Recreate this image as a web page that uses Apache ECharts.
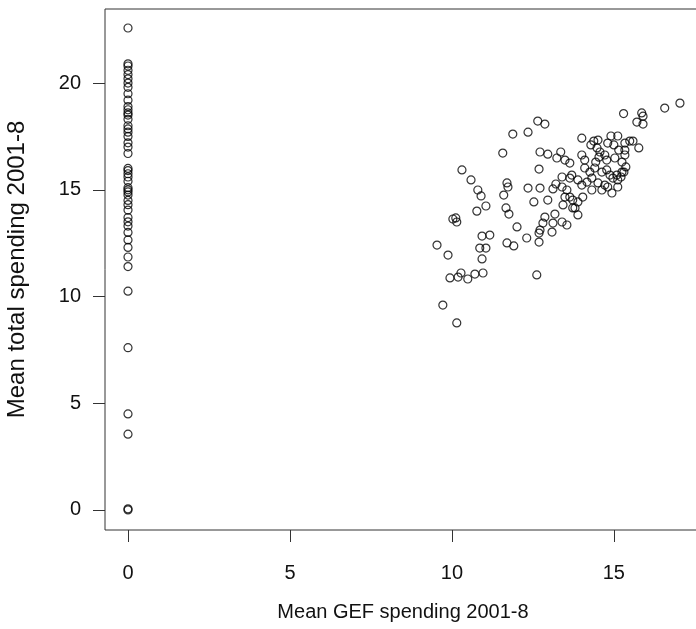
<!DOCTYPE html>
<html>
<head>
<meta charset="utf-8">
<title>Mean total vs GEF spending</title>
<script src="https://cdn.jsdelivr.net/npm/echarts@6/dist/echarts.min.js"></script>
<style>
  html, body { margin: 0; padding: 0; background: #fff; overflow: hidden; }
  /* a little wider than the window: the plot box runs off the right edge like the original */
  #chart { width: 720px; height: 629px; }
</style>
</head>
<body>
<div id="chart"></div>
<script>
// countries with no GEF spending (x = 0)
const zeroGefTotal = [
  22.58, 20.9, 20.8, 20.6, 20.4, 20.2, 20.0, 19.8, 19.5, 19.2, 18.9, 18.75,
  18.6, 18.5, 18.3, 18.0, 17.85, 17.7, 17.5, 17.2, 17.0, 16.7, 16.0, 15.9,
  15.75, 15.6, 15.4, 15.1, 15.0, 14.9, 14.75, 14.5, 14.3, 14.05, 13.7, 13.5,
  13.3, 13.0, 12.65, 12.3, 11.85, 11.4, 10.25, 7.6, 4.5, 3.55, 0.05, 0.0
]

// countries with GEF spending: x and y in the same order
const gefSpending = [
  9.54, 9.72, 10.15, 9.88, 10.03, 10.12, 10.15, 9.94, 10.19, 10.28,
  10.49, 10.71, 10.96, 10.93, 10.86, 11.05, 10.93, 11.17, 10.77, 11.05,
  11.67, 11.76, 11.70, 11.91, 12.01, 12.31, 12.62, 12.53, 12.69, 12.69,
  12.72, 12.81, 12.87, 13.09, 13.12, 13.18, 12.96, 10.31, 10.59, 10.80,
  10.90, 11.57, 11.88, 12.35, 11.70, 11.73, 11.60, 12.35, 12.65, 12.87,
  12.72, 12.96, 13.24, 13.36, 12.69, 12.72, 13.12, 13.21, 13.40, 13.64,
  13.70, 13.49, 13.64, 14.01, 14.01, 14.10, 14.29, 14.38, 14.51, 14.48,
  14.57, 14.54, 14.44, 14.41, 14.63, 14.91, 15.12, 14.81, 15.00, 15.15,
  15.34, 14.72, 14.78, 15.03, 15.25, 15.34, 15.37, 15.25, 14.78, 14.88,
  14.97, 15.09, 15.12, 13.89, 14.01, 14.17, 14.32, 14.51, 14.63, 14.81,
  14.94, 13.40, 13.55, 13.64, 13.49, 13.43, 13.73, 13.89, 13.73, 14.04,
  15.30, 15.86, 15.90, 15.71, 15.90, 16.57, 17.04, 15.34, 15.49, 15.59,
  15.77, 15.31, 15.22, 14.72, 15.12, 14.10, 14.26, 14.32, 13.40, 13.55,
  13.89, 13.80
]
const totalSpending = [
  12.41, 9.60, 8.76, 11.94, 13.63, 13.68, 13.49, 10.87, 10.91, 11.10,
  10.82, 11.05, 11.10, 11.76, 12.27, 12.27, 12.83, 12.88, 14.00, 14.24,
  14.15, 13.86, 12.51, 12.37, 13.26, 12.74, 11.01, 14.43, 12.97, 12.55,
  13.11, 13.44, 13.72, 13.02, 13.44, 13.86, 14.52, 15.93, 15.46, 14.99,
  14.71, 16.72, 17.61, 17.70, 15.32, 15.13, 14.75, 15.08, 18.22, 18.08,
  16.77, 16.67, 16.49, 16.77, 15.97, 15.08, 15.04, 15.27, 15.60, 15.55,
  15.69, 16.39, 16.25, 17.42, 16.63, 16.39, 17.10, 17.28, 17.33, 16.96,
  16.77, 16.53, 16.30, 16.02, 15.83, 17.52, 17.52, 17.19, 17.10, 16.86,
  16.86, 16.63, 16.39, 16.49, 16.30, 16.63, 16.07, 15.83, 15.93, 15.69,
  15.55, 15.69, 15.46, 15.46, 15.22, 15.36, 14.99, 15.32, 14.99, 15.13,
  14.85, 15.13, 14.99, 14.66, 14.66, 14.29, 14.52, 14.43, 14.15, 14.66,
  18.57, 18.60, 18.45, 18.17, 18.08, 18.83, 19.06, 17.19, 17.28, 17.28,
  16.96, 15.83, 15.60, 15.22, 15.13, 16.02, 15.83, 15.55, 13.49, 13.35,
  13.82, 14.15
]

const xTicks = [0, 5, 10, 15]
const yTicks = [0, 5, 10, 15, 20]

const font = 'Liberation Sans, Arial, sans-serif'

const points = zeroGefTotal.map(v => [0, v])
  .concat(gefSpending.map((v, i) => [v, totalSpending[i]]))

const chart = echarts.init(document.getElementById('chart'), null, { renderer: 'canvas' })

chart.setOption({
  animation: false,
  backgroundColor: '#fff',
  grid: {
    left: 105,
    top: 9,
    width: 596,
    height: 521,
    // keep the box exactly where it is set, labels may sit outside
    outerBoundsMode: 'none',
    show: true,
    borderColor: '#333',
    borderWidth: 1
  },
  xAxis: {
    type: 'value',
    min: -0.71,
    max: 17.69,
    name: 'Mean GEF spending 2001-8',
    nameLocation: 'middle',
    nameGap: 72,
    nameTextStyle: { color: '#111', fontFamily: font, fontSize: 20 },
    axisLine: { show: false, onZero: false },
    splitLine: { show: false },
    axisTick: {
      show: true,
      length: 12,
      customValues: xTicks,
      lineStyle: { color: '#333' }
    },
    axisLabel: {
      customValues: xTicks,
      margin: 33,
      color: '#111',
      fontFamily: font,
      fontSize: 20
    }
  },
  yAxis: {
    type: 'value',
    min: -0.94,
    max: 23.47,
    name: 'Mean total spending 2001-8',
    nameLocation: 'middle',
    nameGap: 76,
    nameTextStyle: { color: '#111', fontFamily: font, fontSize: 24 },
    axisLine: { show: false, onZero: false },
    splitLine: { show: false },
    axisTick: {
      show: true,
      length: 12,
      customValues: yTicks,
      lineStyle: { color: '#333' }
    },
    axisLabel: {
      customValues: yTicks,
      margin: 24,
      color: '#111',
      fontFamily: font,
      fontSize: 20
    }
  },
  series: [
    {
      type: 'scatter',
      data: points,
      symbol: 'circle',
      symbolSize: 8,
      itemStyle: {
        color: 'rgba(0,0,0,0)',
        borderColor: '#000',
        borderWidth: 1.2
      },
      emphasis: { disabled: true }
    }
  ]
})
</script>
</body>
</html>
